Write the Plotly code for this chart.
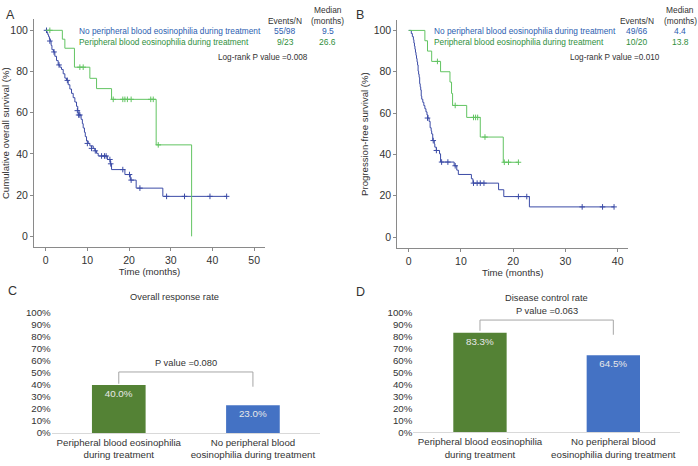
import plotly.graph_objects as go

W, H = 698, 466

# ---------------- DATA ----------------
# Panel A: overall survival (Kaplan-Meier step points: time in months, survival %)
a_no_t = [0, 0.3, 0.5, 0.7, 0.9, 1.1, 1.3, 1.5, 1.9, 2.2, 2.6, 3.0, 3.4, 3.8, 4.2, 4.6, 5.0, 5.4, 5.8,
          6.2, 6.6, 7.0, 7.4, 7.7, 8.0, 8.5, 8.8, 9.0, 9.3, 9.5, 9.8, 10.2, 10.6, 11.4, 11.8, 12.2, 12.6,
          14.8, 15.5, 15.8, 19.0, 20.3, 21.7, 28.1, 43.4]
a_no_s = [100, 98.9, 97.9, 96.9, 95.8, 94.8, 92.7, 90.6, 89.5, 87.4, 85.3, 83.2, 82.1, 81.0, 78.9, 76.8,
          75.7, 73.6, 71.5, 69.4, 67.3, 65.2, 63.1, 61.0, 58.9, 56.8, 54.7, 52.6, 50.5, 48.4, 46.3, 45.1,
          43.9, 42.7, 41.5, 40.3, 39.0, 37.3, 35.2, 32.4, 30.0, 27.3, 23.4, 19.4, 19.4]
a_no_cens_t = [0.2, 1.0, 2.0, 3.2, 5.2, 7.6, 7.9, 8.2, 10.0, 11.0, 11.9, 13.4, 14.1, 14.5, 15.4, 15.6,
               18.5, 20.1, 20.5, 22.6, 29.0, 33.3, 39.4, 43.4]
a_no_cens_s = [100, 94.8, 89.5, 83.2, 75.7, 61.0, 58.9, 58.9, 45.1, 42.7, 41.5, 39.0, 39.0, 39.0, 37.3,
               35.2, 32.4, 30.0, 27.3, 23.4, 19.4, 19.4, 19.4, 19.4]

a_yes_t = [0, 4.0, 4.6, 6.9, 10.6, 12.2, 15.8, 26.5, 35.0]
a_yes_s = [100, 95.7, 91.3, 82.1, 76.7, 71.7, 66.5, 44.4, 0]
a_yes_cens_t = [1.0, 8.2, 9.0, 16.2, 18.5, 19.0, 19.6, 20.5, 25.2, 25.8, 27.0]
a_yes_cens_s = [100, 82.1, 82.1, 66.5, 66.5, 66.5, 66.5, 66.5, 66.5, 66.5, 44.4]

# Panel B: progression-free survival
b_no_t = [0, 0.5, 0.7, 0.9, 1.0, 1.1, 1.2, 1.3, 1.4, 1.5, 1.6, 1.7, 1.8, 1.9, 2.0, 2.1, 2.2, 2.3, 2.4,
          2.5, 2.7, 2.9, 3.1, 3.3, 3.5, 3.7, 3.9, 4.1, 4.3, 4.4, 4.6, 4.9, 5.0, 5.3, 5.9, 6.1, 8.7, 9.2,
          9.5, 12.0, 12.3, 17.2, 18.2, 23.1, 39.3]
b_no_s = [100, 98.5, 97.0, 95.5, 93.9, 92.4, 90.9, 89.4, 87.9, 86.4, 84.8, 83.3, 80.3, 78.8, 77.3, 74.2,
          72.7, 71.2, 68.2, 66.7, 65.2, 63.6, 62.1, 60.6, 59.1, 57.6, 56.0, 52.9, 51.4, 49.9, 46.7, 45.1,
          43.5, 41.9, 40.3, 36.3, 34.5, 32.4, 30.3, 28.2, 26.1, 22.9, 19.6, 14.6, 14.6]
b_no_cens_t = [3.6, 4.7, 5.3, 6.3, 7.5, 8.9, 12.4, 13.1, 13.7, 14.4, 21.0, 22.6, 33.2, 37.1, 39.3]
b_no_cens_s = [57.6, 46.7, 41.9, 36.3, 36.3, 34.5, 26.1, 26.1, 26.1, 26.1, 19.6, 19.6, 14.6, 14.6, 14.6]

b_yes_t = [0, 3.1, 3.6, 4.4, 6.1, 7.9, 8.2, 8.4, 11.1, 13.7, 18.1, 21.0]
b_yes_s = [100, 95.0, 90.0, 85.0, 80.0, 75.0, 69.5, 63.7, 57.9, 48.4, 36.2, 36.2]
b_yes_cens_t = [5.5, 8.9, 12.4, 12.8, 13.2, 14.6, 18.3, 19.1, 21.0]
b_yes_cens_s = [85.0, 63.7, 57.9, 57.9, 57.9, 48.4, 36.2, 36.2, 36.2]

# Panels C and D: bar charts
bar_cats = ["Peripheral blood eosinophilia<br>during treatment",
            "No peripheral blood<br>eosinophilia during treatment"]
orr_vals = [40.0, 23.0]
dcr_vals = [83.3, 64.5]
orr_bracket = [50.8, 41.0, 38.5]   # top, left foot, right foot (%)
dcr_bracket = [94.0, 85.0, 81.7]
orr_p = "P value =0.080"
dcr_p = "P value =0.063"

a_rows = [("No peripheral blood eosinophilia during treatment", "55/98", "9.5"),
          ("Peripheral blood eosinophilia during treatment", "9/23", "26.6")]
b_rows = [("No peripheral blood eosinophilia during treatment", "49/66", "4.4"),
          ("Peripheral blood eosinophilia during treatment", "10/20", "13.8")]
a_logrank = "Log-rank P value =0.008"
b_logrank = "Log-rank P value =0.010"

# ---------------- STYLE ----------------
BLUE_LINE = "#3b4ba6"
GREEN_LINE = "#62c462"
BLUE_TXT = "#2c5eb0"
GREEN_TXT = "#2f8f3c"
BAR_GREEN = "#548235"
BAR_BLUE = "#4472c4"
AXIS = "#8a8a8a"
TXT = "#333333"
FONT = "Liberation Sans, Arial, sans-serif"


def px(x):
    return x / W


def py(y):
    return 1 - y / H


fig = go.Figure()


def km(t, s, color, xa, ya):
    fig.add_trace(go.Scatter(x=t, y=s, mode="lines", line=dict(color=color, width=1, shape="hv"),
                             xaxis=xa, yaxis=ya, showlegend=False, hoverinfo="skip"))


def cens(t, s, color, xa, ya):
    fig.add_trace(go.Scatter(x=t, y=s, mode="markers",
                             marker=dict(symbol="cross-thin", size=4, line=dict(width=1, color=color)),
                             xaxis=xa, yaxis=ya, showlegend=False, hoverinfo="skip"))


km(a_no_t, a_no_s, BLUE_LINE, "x", "y")
cens(a_no_cens_t, a_no_cens_s, BLUE_LINE, "x", "y")
km(a_yes_t, a_yes_s, GREEN_LINE, "x", "y")
cens(a_yes_cens_t, a_yes_cens_s, GREEN_LINE, "x", "y")

km(b_no_t, b_no_s, BLUE_LINE, "x2", "y2")
cens(b_no_cens_t, b_no_cens_s, BLUE_LINE, "x2", "y2")
km(b_yes_t, b_yes_s, GREEN_LINE, "x2", "y2")
cens(b_yes_cens_t, b_yes_cens_s, GREEN_LINE, "x2", "y2")

for vals, xa, ya in [(orr_vals, "x3", "y3"), (dcr_vals, "x4", "y4")]:
    fig.add_trace(go.Bar(x=bar_cats, y=vals, xaxis=xa, yaxis=ya, width=0.4,
                         marker=dict(color=[BAR_GREEN, BAR_BLUE], line=dict(width=0)),
                         text=[f"{v:.1f}%" for v in vals], textposition="inside",
                         insidetextanchor="end", textangle=0,
                         textfont=dict(color="#e8e8e8", size=9.8, family=FONT),
                         showlegend=False, hoverinfo="skip"))

tickfont = dict(size=10.5, color=TXT, family=FONT)
km_x = dict(showline=True, linecolor=AXIS, linewidth=1, ticks="outside", ticklen=3, tickcolor=AXIS,
            showgrid=False, zeroline=False, tickfont=tickfont, dtick=10,
            title=dict(text="Time (months)", font=dict(size=9.6, color=TXT, family=FONT), standoff=3))
km_y = dict(showline=True, linecolor=AXIS, linewidth=1, ticks="outside", ticklen=3, tickcolor=AXIS,
            showgrid=False, zeroline=False, tickfont=tickfont, tickvals=[0, 20, 40, 60, 80, 100])

bar_x = dict(showline=True, linecolor="#d9d9d9", linewidth=1, ticks="", showgrid=False,
             tickfont=dict(size=9.7, color=TXT, family=FONT), range=[-0.5, 1.5])
bar_y = dict(showline=False, showgrid=False, zeroline=False, range=[0, 100], dtick=10,
             ticksuffix="%", tickfont=dict(size=9.7, color=TXT, family=FONT), ticks="")

fig.update_layout(
    width=W, height=H, margin=dict(l=0, r=0, t=0, b=0),
    paper_bgcolor="white", plot_bgcolor="white",
    font=dict(family=FONT, color=TXT),
    bargap=0.6,
    xaxis=dict(km_x, domain=[px(34), px(265)], range=[-2.8, 52.6], anchor="y"),
    yaxis=dict(km_y, domain=[py(247.3), py(13.3)], range=[-5.4, 105.5], anchor="x",
               title=dict(text="Cumulative overall survival (%)", font=dict(size=9.6, color=TXT, family=FONT),
                          standoff=3)),
    xaxis2=dict(km_x, domain=[px(397.3), px(628)], range=[-2.18, 41.97], anchor="y2"),
    yaxis2=dict(km_y, domain=[py(248.3), py(14)], range=[-5.5, 105.2], anchor="x2",
                title=dict(text="Progression-free survival (%)", font=dict(size=9.6, color=TXT, family=FONT),
                           standoff=3)),
    xaxis3=dict(bar_x, domain=[px(51.7), px(320)], anchor="y3"),
    yaxis3=dict(bar_y, domain=[py(437.3), py(314.3)], anchor="x3"),
    xaxis4=dict(bar_x, domain=[px(413.3), px(680)], anchor="y4"),
    yaxis4=dict(bar_y, domain=[py(436.7), py(314.3)], anchor="x4"),
)

ann = []


def text(x, y, s, size=8.4, color=TXT, xanchor="center", yanchor="middle"):
    ann.append(dict(x=px(x), y=py(y), xref="paper", yref="paper", text=s, showarrow=False,
                    font=dict(size=size, color=color, family=FONT), xanchor=xanchor, yanchor=yanchor))


# panel letters
text(4, 9, "A", size=12.5, xanchor="left")
text(354, 9, "B", size=12.5, xanchor="left")
text(6, 292, "C", size=12.5, xanchor="left")
text(354, 293, "D", size=12.5, xanchor="left")

# KM headers
for (rows, x_lab, x_ev, x_med, lr, x_lr) in [(a_rows, 77.3, 285, 327.5, a_logrank, 263),
                                              (b_rows, 431.7, 637, 680, b_logrank, 615)]:
    text(x_ev, 15, "Events/N", size=8.4)
    text(x_med, 4.5, "Median", size=8.4)
    text(x_med, 15.5, "(months)", size=8.4)
    for i, (lab, ev, med) in enumerate(rows):
        col = BLUE_TXT if i == 0 else GREEN_TXT
        yy = 25.5 + 11.2 * i
        text(x_lab, yy, lab, size=8.3, color=col, xanchor="left")
        text(x_ev, yy, ev, size=8.5, color=col)
        text(x_med, yy, med, size=8.5, color=col)
    text(x_lr, 52.3, lr, size=8.2)

# bar titles
text(174, 298.5, "Overall response rate", size=9.3)
text(546.7, 299, "Disease control rate", size=9.3)

# brackets and p-values (data coordinates)
shapes = []
for br, p, xa, ya in [(orr_bracket, orr_p, "x3", "y3"), (dcr_bracket, dcr_p, "x4", "y4")]:
    top, lf, rf = br
    line = dict(color="#a6a6a6", width=1)
    shapes.append(dict(type="line", xref=xa, yref=ya, x0=0, x1=1, y0=top, y1=top, line=line))
    shapes.append(dict(type="line", xref=xa, yref=ya, x0=0, x1=0, y0=top, y1=lf, line=line))
    shapes.append(dict(type="line", xref=xa, yref=ya, x0=1, x1=1, y0=top, y1=rf, line=line))
    ann.append(dict(x=0.5, y=top, xref=xa, yref=ya, text=p, showarrow=False, yanchor="bottom",
                    yshift=2, font=dict(size=9.3, color=TXT, family=FONT)))

fig.update_layout(annotations=ann, shapes=shapes)

fig.write_html("out.html", config={"displayModeBar": False},
               post_script="document.body.style.margin='0';document.body.style.padding='0';")
